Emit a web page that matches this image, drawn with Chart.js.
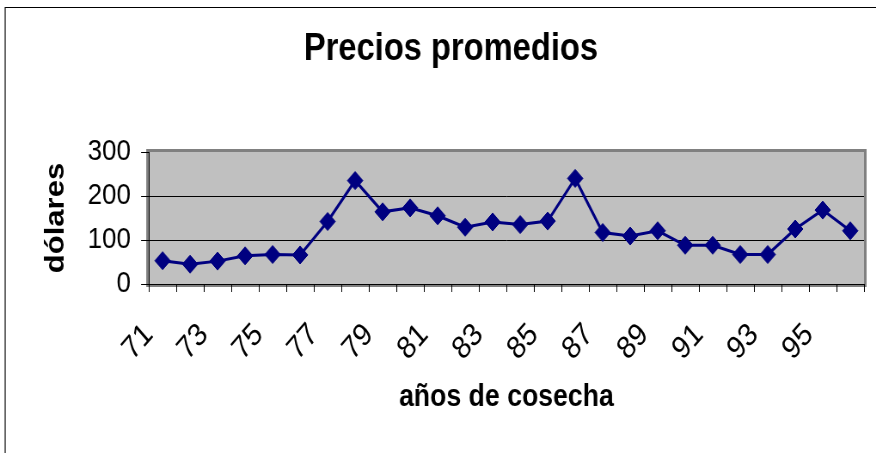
<!DOCTYPE html>
<html>
<head>
<meta charset="utf-8">
<script src="https://cdn.jsdelivr.net/npm/chart.js@4/dist/chart.umd.min.js"></script>
<style>
  html, body { margin: 0; padding: 0; background: #ffffff; overflow: hidden; }
  #wrap { width: 1019px; height: 453px; transform: scaleX(0.8597); transform-origin: 0 0; }
  canvas { display: block; }
</style>
</head>
<body>
<div id="wrap"><canvas id="c" width="1019" height="453"></canvas></div>
<script>
// ---- data ----
const years = ['71','72','73','74','75','76','77','78','79','80','81','82','83',
               '84','85','86','87','88','89','90','91','92','93','94','95','96'];
const precios = [53, 45, 52, 64, 67, 66, 142, 235, 164, 173, 155, 129, 141,
                 135, 143, 240, 117, 109, 121, 88, 88, 67, 67, 125, 168, 121];
const shownYearTicks = ['71','73','75','77','79','81','83','85','87','89','91','93','95'];
const yTicks = [0, 100, 200, 300];
const chartTitle = 'Precios promedios';
const xTitle = 'años de cosecha';
const yTitle = 'dólares';

const FONT = "'Liberation Sans', Arial, sans-serif";

const plotDecor = {
  id: 'plotDecor',
  beforeDraw(chart) {
    const { ctx, chartArea: a } = chart;
    ctx.save();
    ctx.fillStyle = '#C0C0C0';
    ctx.fillRect(a.left, a.top, a.right - a.left, a.bottom - a.top);
    ctx.strokeStyle = '#808080';
    ctx.lineWidth = 3;
    ctx.strokeRect(a.left - 1.5, a.top - 1.5, a.right - a.left + 3, a.bottom - a.top + 3);
    ctx.restore();
  },
  afterDraw(chart) {
    const { ctx, width, height } = chart;
    ctx.save();
    ctx.strokeStyle = '#000000';
    ctx.lineWidth = 1.2;
    ctx.beginPath();
    ctx.moveTo(6, height);
    ctx.lineTo(6, 7.5);
    ctx.lineTo(width, 7.5);
    ctx.stroke();
    ctx.restore();
  }
};

new Chart(document.getElementById('c'), {
  type: 'line',
  data: {
    labels: years,
    datasets: [{
      data: precios,
      borderColor: '#000080',
      backgroundColor: '#000080',
      borderWidth: 3,
      pointStyle: 'rectRot',
      pointRadius: 9,
      pointBorderWidth: 1,
      pointBackgroundColor: '#000080',
      pointBorderColor: '#000080',
      tension: 0,
      fill: false
    }]
  },
  options: {
    responsive: false,
    devicePixelRatio: 1,
    animation: false,
    layout: { padding: { left: 44, right: 14, top: 0, bottom: 0 } },
    plugins: {
      legend: { display: false },
      tooltip: { enabled: false },
      title: {
        display: true,
        text: chartTitle,
        color: '#000',
        font: { family: FONT, size: 38, weight: 'bold' },
        padding: { top: 27, bottom: 79.4 }
      }
    },
    scales: {
      x: {
        offset: true,
        grid: { offset: true, drawOnChartArea: false, drawTicks: true, tickLength: 8, tickColor: '#000', tickWidth: 1 },
        border: { display: true, color: '#000', width: 1 },
        ticks: {
          autoSkip: false,
          minRotation: 45,
          maxRotation: 45,
          padding: 24,
          labelOffset: -16,
          color: '#000',
          font: { family: FONT, size: 32 },
          callback: function(v, i) {
            const lab = this.getLabelForValue(v);
            return shownYearTicks.includes(lab) ? lab : '';
          }
        },
        title: {
          display: true,
          text: xTitle,
          color: '#000',
          font: { family: FONT, size: 31, weight: 'bold' },
          padding: { top: 0, bottom: 37.4 }
        },
        afterFit(scale) {
          scale.height = 169;
          scale.paddingLeft = 0;
          scale.paddingRight = 0;
        }
      },
      y: {
        min: 0,
        max: 300,
        afterBuildTicks(scale) { scale.ticks = yTicks.map(v => ({ value: v })); },
        grid: {
          color: (c) => (c.tick && c.tick.value === 300) ? 'rgba(0,0,0,0)' : '#000',
          tickColor: '#000',
          tickLength: 9,
          lineWidth: 1
        },
        border: { display: true, color: '#000', width: 1 },
        ticks: {
          padding: 12,
          color: '#000',
          font: { family: FONT, size: 30 }
        },
        title: {
          display: true,
          text: yTitle,
          color: '#000',
          font: { family: FONT, size: 31, weight: 'bold' },
          padding: { top: 3.2, bottom: 0 }
        },
        afterFit(scale) {
          scale.width = 129.1;
          scale.paddingTop = 0;
          scale.paddingBottom = 0;
        }
      }
    }
  },
  plugins: [plotDecor]
});
</script>
</body>
</html>
